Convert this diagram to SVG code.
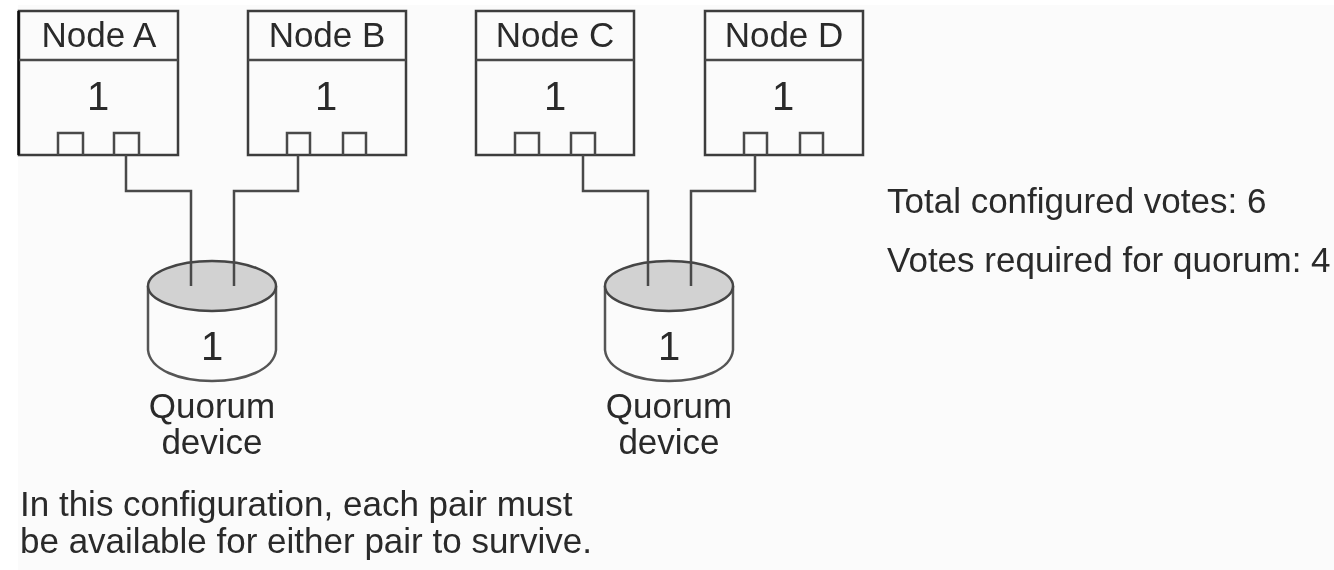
<svg xmlns="http://www.w3.org/2000/svg" width="1334" height="570" viewBox="0 0 1334 570">
<style>
text{font-family:"Liberation Sans",Arial,sans-serif;font-size:35px;fill:#2a2a2a;text-anchor:middle}
.n{font-size:40px}
.l{text-anchor:start}
.b{fill:#fbfbfb;stroke:#3c3c3c;stroke-width:2.5}
.p{fill:none;stroke:#484848;stroke-width:2.5}
.t{fill:#d2d2d2;stroke:#444;stroke-width:2.5}
.s{fill:#fbfbfb;stroke:#555;stroke-width:2.5}
.soft{filter:url(#soft)}
</style>
<defs><filter id="soft" x="0" y="0" width="1334" height="570" filterUnits="userSpaceOnUse"><feGaussianBlur stdDeviation="0.7"/></filter></defs>
<rect width="1334" height="570" fill="#fbfbfb"/>
<rect width="1334" height="5" fill="#fff"/>
<rect width="18" height="570" fill="#fff"/>
<g class="soft">
<g id="node-a"><rect class="b" x="19" y="11" width="159" height="144"/><line x1="18.5" y1="11" x2="18.5" y2="155" stroke="#111" stroke-width="2.5"/><line class="p" x1="19" y1="60" x2="178" y2="60"/><text x="99" y="47">Node A</text><text class="n" x="98" y="110">1</text><path class="p" d="M58 155V133H83V155M114 155V133H139V155"/></g>
<g id="node-b"><rect class="b" x="248" y="11" width="158" height="144"/><line class="p" x1="248" y1="60" x2="406" y2="60"/><text x="327" y="47">Node B</text><text class="n" x="326" y="110">1</text><path class="p" d="M287 155V133H310V155M343 155V133H366V155"/></g>
<g id="node-c"><rect class="b" x="476" y="11" width="158" height="144"/><line class="p" x1="476" y1="60" x2="634" y2="60"/><text x="555" y="47">Node C</text><text class="n" x="555" y="110">1</text><path class="p" d="M515 155V133H539V155M571 155V133H595V155"/></g>
<g id="node-d"><rect class="b" x="705" y="11" width="158" height="144"/><line class="p" x1="705" y1="60" x2="863" y2="60"/><text x="784" y="47">Node D</text><text class="n" x="783" y="110">1</text><path class="p" d="M744 155V133H767V155M800 155V133H823V155"/></g>
<g id="quorum-1"><path class="s" d="M148 286V350C150 370 180 381 212 381C244 381 274 370 276 350V286"/><ellipse class="t" cx="212" cy="286" rx="64" ry="25"/><text class="n" x="212" y="360">1</text><text x="212" y="418">Quorum</text><text x="212" y="454">device</text></g>
<g id="quorum-2"><path class="s" d="M605 286V350C607 370 637 381 669 381C701 381 731 370 733 350V286"/><ellipse class="t" cx="669" cy="286" rx="64" ry="25"/><text class="n" x="669" y="360">1</text><text x="669" y="418">Quorum</text><text x="669" y="454">device</text></g>
<g id="connectors">
<path class="p" d="M126 155V191H191V286"/>
<path class="p" d="M298 155V191H234V286"/>
<path class="p" d="M583 155V191H648V286"/>
<path class="p" d="M755 155V191H691V286"/>
</g>
<text class="l" x="887" y="213">Total configured votes: 6</text>
<text class="l" x="887" y="272">Votes required for quorum: 4</text>
<text class="l" x="20" y="516">In this configuration, each pair must</text>
<text class="l" x="20" y="553">be available for either pair to survive.</text>
</g>
</svg>
